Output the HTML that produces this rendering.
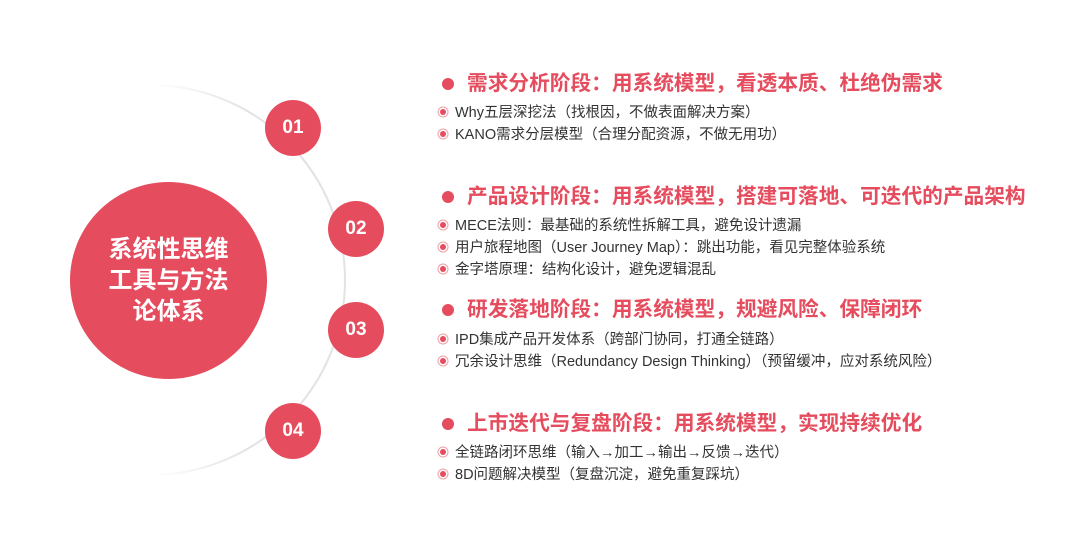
<!DOCTYPE html>
<html><head><meta charset="utf-8"><style>
body{margin:0;width:1080px;height:547px;background:#fff;position:relative;overflow:hidden;font-family:"Liberation Sans","Noto Sans CJK SC",sans-serif}
.c{position:absolute;border-radius:50%;background:#e54c5e;color:#fff;display:flex;align-items:center;justify-content:center;font-weight:bold}
.n{width:56px;height:56px;font-size:19px}
.h{position:absolute;left:467px;font-size:20.7px;font-weight:bold;color:#e54c5e;white-space:nowrap;line-height:24px}
.h:before{content:"";position:absolute;left:-25px;top:6px;width:12px;height:12px;border-radius:50%;background:#e54c5e}
.s{position:absolute;left:455px;font-size:14.5px;color:#333;white-space:nowrap;line-height:18px}
.s:before{content:"";position:absolute;left:-15px;top:5px;width:6px;height:6px;border-radius:50%;background:#e54c5e;box-shadow:0 0 0 1.5px #fff,0 0 0 2.5px #f0a0a8}
</style></head><body>
<svg width="1080" height="547" style="position:absolute;left:0;top:0">
<defs><linearGradient id="g" x1="0" x2="1"><stop offset="0" stop-color="#e8e8e8" stop-opacity="0"/><stop offset="0.5" stop-color="#e2e2e2"/></linearGradient></defs>
<path d="M150 85 A195 195 0 0 1 150 475" fill="none" stroke="url(#g)" stroke-width="2"/>
</svg>
<div class="c" style="left:70px;top:182px;width:197px;height:197px;font-size:24px;line-height:31px;text-align:center">系统性思维<br>工具与方法<br>论体系</div>
<div class="c n" style="left:265px;top:100px">01</div>
<div class="c n" style="left:328px;top:201px">02</div>
<div class="c n" style="left:328px;top:302px">03</div>
<div class="c n" style="left:265px;top:403px">04</div>
<div class="h" style="top:72px">需求分析阶段：用系统模型，看透本质、杜绝伪需求</div>
<div class="s" style="top:104px">Why五层深挖法（找根因，不做表面解决方案）</div>
<div class="s" style="top:126px">KANO需求分层模型（合理分配资源，不做无用功）</div>
<div class="h" style="top:185px">产品设计阶段：用系统模型，搭建可落地、可迭代的产品架构</div>
<div class="s" style="top:217px">MECE法则：最基础的系统性拆解工具，避免设计遗漏</div>
<div class="s" style="top:239px">用户旅程地图（User Journey Map）：跳出功能，看见完整体验系统</div>
<div class="s" style="top:261px">金字塔原理：结构化设计，避免逻辑混乱</div>
<div class="h" style="top:298px">研发落地阶段：用系统模型，规避风险、保障闭环</div>
<div class="s" style="top:331px">IPD集成产品开发体系（跨部门协同，打通全链路）</div>
<div class="s" style="top:353px">冗余设计思维（Redundancy Design Thinking）（预留缓冲，应对系统风险）</div>
<div class="h" style="top:412px">上市迭代与复盘阶段：用系统模型，实现持续优化</div>
<div class="s" style="top:444px">全链路闭环思维（输入→加工→输出→反馈→迭代）</div>
<div class="s" style="top:466px">8D问题解决模型（复盘沉淀，避免重复踩坑）</div>
</body></html>
